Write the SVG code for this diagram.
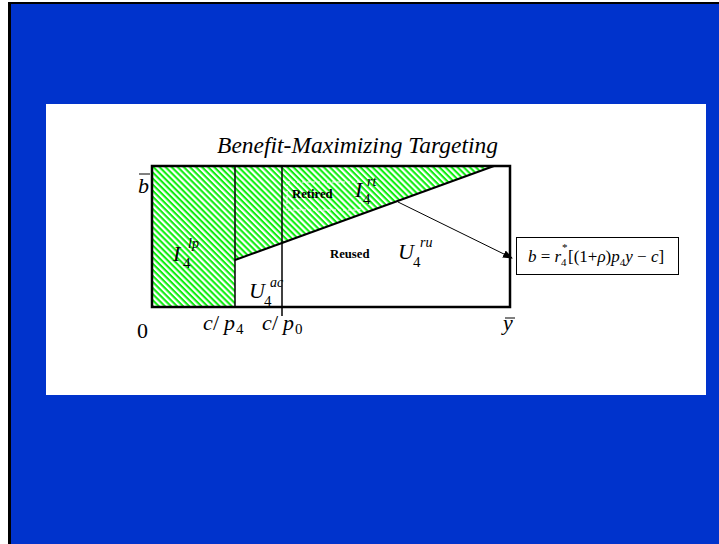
<svg xmlns="http://www.w3.org/2000/svg" width="719" height="544" viewBox="0 0 719 544">
<defs>
<pattern id="hatch" patternUnits="userSpaceOnUse" width="4.3" height="4.3" patternTransform="rotate(45)">
<rect width="4.3" height="4.3" fill="#ffffff"/>
<rect width="4.3" height="2.1" fill="#11ee11"/>
</pattern>
<marker id="arr" markerWidth="10" markerHeight="8" refX="9" refY="4" orient="auto" markerUnits="userSpaceOnUse">
<path d="M0,0 L10,4 L0,8 Z" fill="#000"/>
</marker>
</defs>
<style>
.m{font-family:"Liberation Serif","Times New Roman",serif;fill:#000}
.i{font-style:italic}
.lbl{font-size:22px}
.sub{font-size:15px;font-style:normal}
.sup{font-size:14px;font-style:italic}
.fs{font-size:17px}
.fsm{font-size:11px}
.bold{font-family:"Liberation Serif",serif;font-weight:bold;font-size:12.7px;fill:#000}
.ln{stroke:#000;fill:none}
</style>
<rect width="719" height="544" fill="#ffffff"/>
<rect x="8" y="2" width="711" height="542" fill="#000"/>
<rect x="11" y="4" width="708" height="540" fill="#0033cc"/>
<rect x="46" y="104" width="660" height="291" fill="#ffffff"/>

<text class="m i" x="357.5" y="153" font-size="23.5" text-anchor="middle">Benefit-Maximizing Targeting</text>

<g id="hatched-region">
<polygon points="152,166 494,166 235,260 235,307 152,307" fill="url(#hatch)"/>
<rect x="287" y="182" width="73" height="28" fill="none" stroke="#ffffff" stroke-width="1" stroke-dasharray="3,2"/>
</g>

<g id="frame">
<rect x="152" y="166" width="358" height="141" class="ln" stroke-width="2.5"/>
</g>

<g id="connectors">
<line x1="235" y1="166" x2="235" y2="307" class="ln" stroke-width="1.5"/>
<line x1="282" y1="166" x2="282" y2="316" class="ln" stroke-width="1.5"/>
<line x1="235" y1="260" x2="494" y2="166" class="ln" stroke-width="2"/>
<line x1="398" y1="202" x2="512" y2="258" class="ln" stroke-width="1" marker-end="url(#arr)"/>
</g>

<g id="axis-labels">
<text class="m i lbl" x="138" y="193">b</text>
<line x1="139" y1="174" x2="150" y2="174" stroke="#000" stroke-width="1"/>
<text class="m lbl" x="137" y="338">0</text>
<text class="m i lbl" y="330"><tspan x="203">c</tspan><tspan x="213" font-style="normal">/</tspan><tspan x="224">p</tspan><tspan x="236" y="334" class="sub">4</tspan></text>
<text class="m i lbl" y="330"><tspan x="262">c</tspan><tspan x="272" font-style="normal">/</tspan><tspan x="283">p</tspan><tspan x="295" y="334" class="sub">0</tspan></text>
<text class="m i lbl" x="503" y="330">y</text>
<line x1="505" y1="318" x2="515" y2="318" stroke="#000" stroke-width="1"/>
</g>

<g id="node-I4lp">
<text class="m i lbl" x="173" y="261">I</text>
<text class="m sub" x="183" y="268">4</text>
<text class="m sup" x="188" y="248">lp</text>
</g>

<g id="node-U4ac">
<text class="m i lbl" x="249" y="298">U</text>
<text class="m sub" x="264" y="306">4</text>
<text class="m sup" x="270" y="287">ac</text>
</g>

<g id="node-retired">
<text class="bold" x="292" y="198">Retired</text>
</g>

<g id="node-I4rt">
<text class="m i lbl" x="355" y="197">I</text>
<text class="m sub" x="363" y="204">4</text>
<text class="m sup" x="367" y="186">rt</text>
</g>

<g id="node-reused">
<text class="bold" x="330" y="258">Reused</text>
</g>

<g id="node-U4ru">
<text class="m i lbl" x="398" y="259">U</text>
<text class="m sub" x="413" y="267">4</text>
<text class="m sup" x="420" y="247">ru</text>
</g>

<g id="node-formula">
<rect x="516.5" y="237.5" width="162" height="37" fill="#ffffff" stroke="#000" stroke-width="1"/>
<text class="m fs" x="528" y="262"><tspan font-style="italic">b</tspan> = <tspan font-style="italic">r</tspan></text>
<text class="m fsm" x="561" y="266">4</text>
<text class="m fsm" x="562" y="251">*</text>
<text class="m fs" x="568" y="262">[(1+<tspan font-style="italic">ρ</tspan>)<tspan font-style="italic">p</tspan><tspan class="fsm" dy="4">4</tspan><tspan font-style="italic" dy="-4">y</tspan> − <tspan font-style="italic">c</tspan>]</text>
</g>
</svg>
